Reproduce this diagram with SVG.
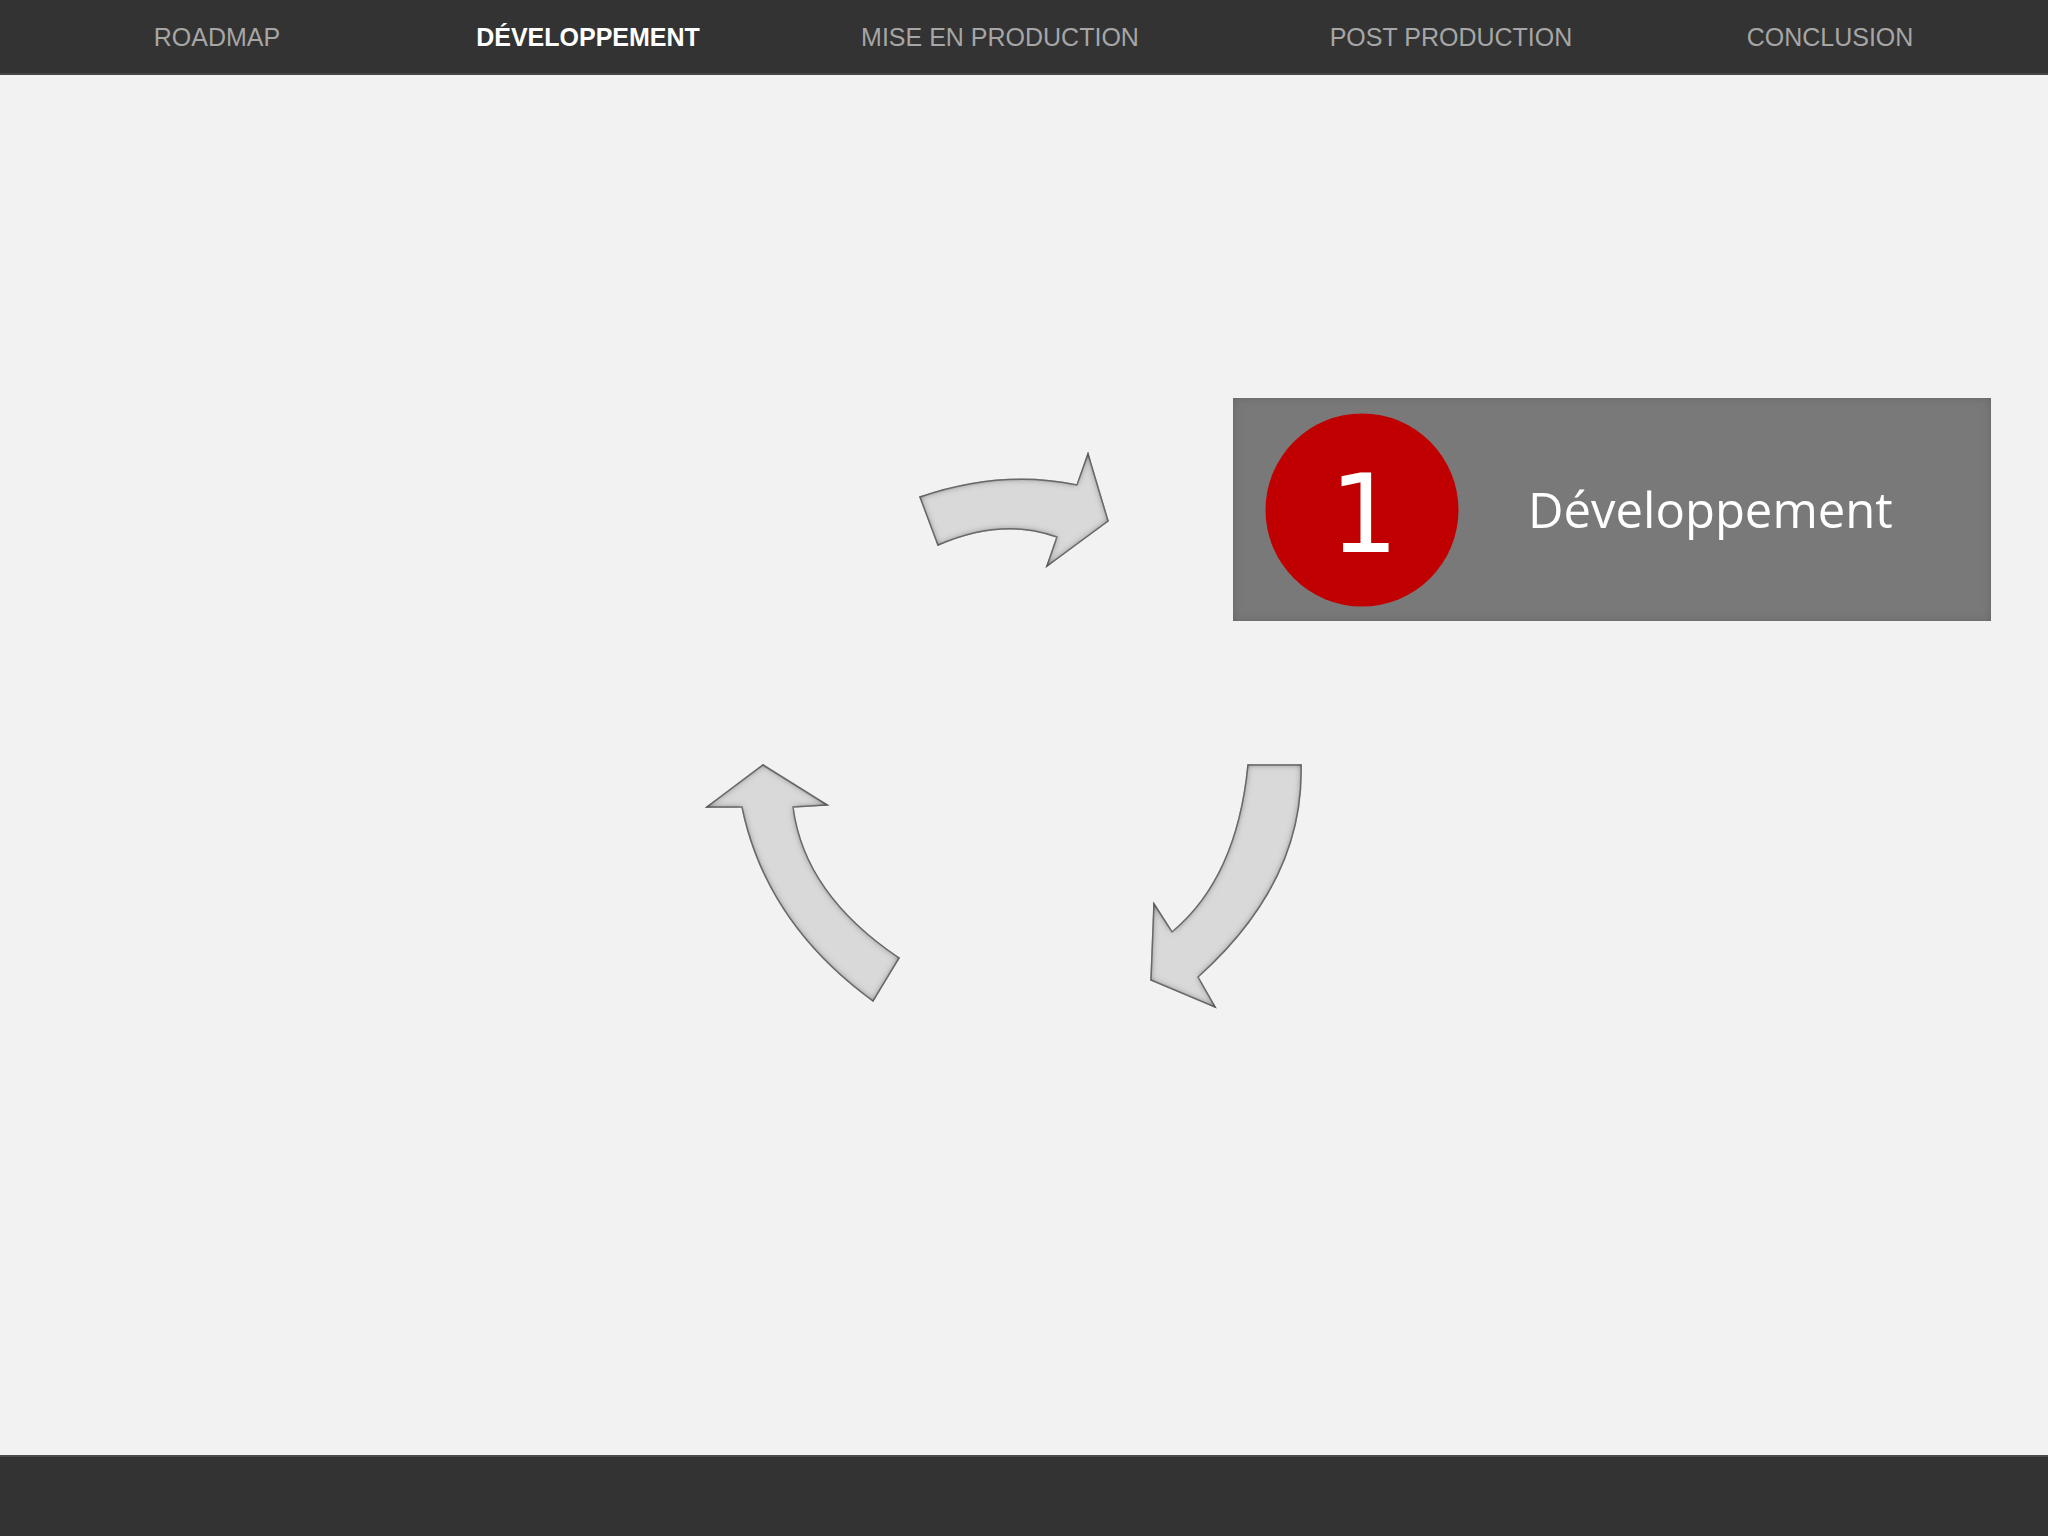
<svg xmlns="http://www.w3.org/2000/svg" width="2048" height="1536" viewBox="0 0 2048 1536">
<defs>
<style>
.nav{font-family:"Liberation Sans",Arial,sans-serif;font-size:25px;fill:#a6a6a6;text-anchor:middle}
.nav.active{fill:#ffffff;font-weight:bold}
.arrow{fill:#d9d9d9;stroke:#7a7a7a;stroke-width:1.5;stroke-linejoin:miter;filter:url(#inset)}
</style>
<filter id="inset" x="-10%" y="-10%" width="120%" height="120%">
<feFlood flood-color="#4a4a4a" result="c"/>
<feComposite in="c" in2="SourceAlpha" operator="out" result="inv"/>
<feGaussianBlur in="inv" stdDeviation="3.5" result="blur"/>
<feComposite in="blur" in2="SourceAlpha" operator="in" result="shadow"/>
<feMerge><feMergeNode in="SourceGraphic"/><feMergeNode in="shadow"/></feMerge>
</filter>
<filter id="insetSoft" x="-5%" y="-5%" width="110%" height="110%">
<feFlood flood-color="#555555" flood-opacity="0.6" result="c"/>
<feComposite in="c" in2="SourceAlpha" operator="out" result="inv"/>
<feGaussianBlur in="inv" stdDeviation="5" result="blur"/>
<feComposite in="blur" in2="SourceAlpha" operator="in" result="shadow"/>
<feMerge><feMergeNode in="SourceGraphic"/><feMergeNode in="shadow"/></feMerge>
</filter>
</defs>
<rect x="0" y="0" width="2048" height="1536" fill="#f2f2f2"/>
<g id="topbar">
<rect x="0" y="0" width="2048" height="74" fill="#333333"/>
<rect x="0" y="73" width="2048" height="2" fill="#464646"/>
<text class="nav" x="217" y="46">ROADMAP</text>
<text class="nav active" x="588" y="46">DÉVELOPPEMENT</text>
<text class="nav" x="1000" y="46">MISE EN PRODUCTION</text>
<text class="nav" x="1451" y="46">POST PRODUCTION</text>
<text class="nav" x="1830" y="46">CONCLUSION</text>
</g>
<g id="bottombar">
<rect x="0" y="1455" width="2048" height="81" fill="#333333"/>
<rect x="0" y="1455" width="2048" height="2" fill="#4a4a4a"/>
</g>
<g id="connectors">
<path id="arrow-top" class="arrow" d="M920,497 Q1001,469 1077,485 L1088,454 L1108,521 L1047,566 L1057,537 Q1002,517 938,545 Z"/>
<path id="arrow-right" class="arrow" d="M1248,765 L1301,765 Q1304,882 1198,977 L1215,1007 L1151,980 L1154,904 L1172,932 Q1237,878 1248,765 Z"/>
<path id="arrow-left" class="arrow" d="M763,765 L827,805 L793,807 Q804,894 899,958 L873,1001 Q766,923 742,807 L707,807 Z"/>
</g>
<g id="node-developpement">
<rect x="1233" y="398" width="758" height="223" fill="#7a797a" filter="url(#insetSoft)"/>
<circle cx="1362" cy="510" r="96.5" fill="#c00000"/>
<text x="1364" y="552" font-family="'DejaVu Sans',sans-serif" font-size="108" fill="#ffffff" text-anchor="middle">1</text>
<text x="1528" y="528" font-family="'Open Sans','Noto Sans',sans-serif" font-size="49" fill="#ffffff">Développement</text>
</g>
</svg>
